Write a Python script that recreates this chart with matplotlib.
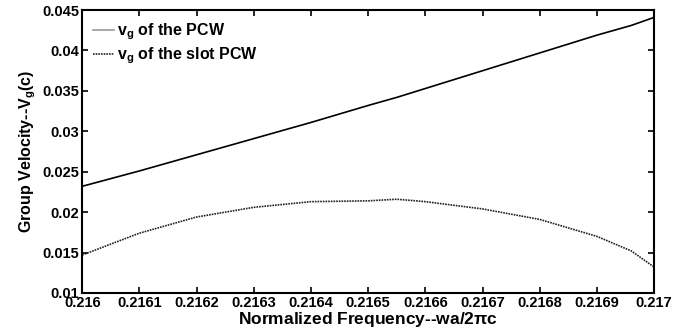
import numpy as np
import matplotlib.pyplot as plt

plt.rcParams['font.family'] = ['Liberation Sans', 'DejaVu Sans']
plt.rcParams['mathtext.fontset'] = 'custom'
plt.rcParams['mathtext.rm'] = 'Liberation Sans:bold'
plt.rcParams['mathtext.it'] = 'Liberation Sans:bold'

# Data
freq = [0.2160, 0.2161, 0.2162, 0.2163, 0.2164, 0.2165, 0.21655,
        0.2166, 0.2167, 0.2168, 0.2169, 0.21696, 0.2170]
vg_pcw = [0.0232, 0.0251, 0.0271, 0.0291, 0.0311, 0.0332, 0.0342,
          0.0353, 0.0375, 0.0397, 0.0419, 0.0431, 0.0441]
vg_slot = [0.0147, 0.0174, 0.0194, 0.0206, 0.0213, 0.0214, 0.0216,
           0.0213, 0.0204, 0.0191, 0.0170, 0.0152, 0.0132]

xticks = [0.216, 0.2161, 0.2162, 0.2163, 0.2164, 0.2165, 0.2166,
          0.2167, 0.2168, 0.2169, 0.217]
xticklabels = ['0.216', '0.2161', '0.2162', '0.2163', '0.2164', '0.2165',
               '0.2166', '0.2167', '0.2168', '0.2169', '0.217']
yticks = [0.01, 0.015, 0.02, 0.025, 0.03, 0.035, 0.04, 0.045]
yticklabels = ['0.01', '0.015', '0.02', '0.025', '0.03', '0.035', '0.04', '0.045']

fig = plt.figure(figsize=(6.85, 3.36), dpi=100)
ax = fig.add_axes([0.12, 0.128, 0.835, 0.842])

ax.plot(freq, vg_pcw, color='black', lw=1.2, label='v$_g$ of the PCW')
ax.plot(freq, vg_slot, color='#222222', lw=1.2, ls=(0, (1, 0.6)),
        label='v$_g$ of the slot PCW')

ax.set_xlim(0.216, 0.217)
ax.set_ylim(0.01, 0.045)
ax.set_xticks(xticks)
ax.set_xticklabels(xticklabels)
ax.set_yticks(yticks)
ax.set_yticklabels(yticklabels)
ax.tick_params(direction='in', top=True, right=True, length=4, width=1.2,
               labelsize=10.5, pad=2)
for lab in ax.get_xticklabels() + ax.get_yticklabels():
    lab.set_fontweight('bold')
for s in ax.spines.values():
    s.set_linewidth(1.5)

ax.set_xlabel('Normalized Frequency--wa/2$\\pi$c', fontsize=12.5,
              fontweight='bold', labelpad=0)
ax.set_ylabel('Group Velocity--V$_g$(c)', fontsize=11.5, fontweight='bold',
              labelpad=3)

leg = ax.legend(loc='upper left', frameon=False, handlelength=1.3,
                handletextpad=0.2, borderaxespad=0.3, labelspacing=0.25,
                prop={'weight': 'bold', 'size': 11.5})
leg.get_lines()[0].set_color('#999999')

fig.savefig('out.png', dpi=100)
